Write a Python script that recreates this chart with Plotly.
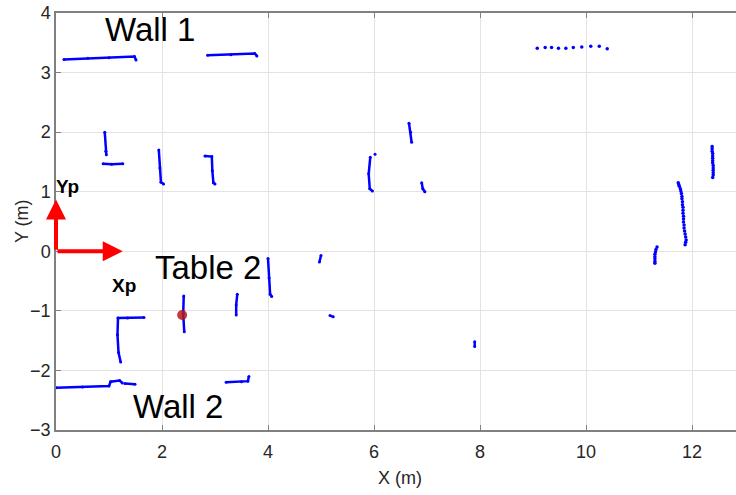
import plotly.graph_objects as go

# ---- data (metres) ----
x_ticks = [0, 2, 4, 6, 8, 10, 12]
y_ticks = [-3, -2, -1, 0, 1, 2, 3, 4]

# dense scan segments (drawn as polylines through read vertices)
wall1_left = [(0.15, 3.22), (0.6, 3.24), (1.0, 3.25), (1.48, 3.27), (1.51, 3.21)]
wall1_right = [(2.86, 3.29), (3.3, 3.30), (3.75, 3.32), (3.79, 3.28)]
seg_a_vert = [(0.92, 2.0), (0.94, 1.68), (0.95, 1.62)]
seg_a_horiz = [(0.89, 1.47), (1.05, 1.46), (1.26, 1.47)]
seg_b = [(1.94, 1.70), (1.96, 1.40), (1.98, 1.16), (2.03, 1.13)]
seg_c = [(2.81, 1.60), (2.94, 1.59), (2.95, 1.35), (2.97, 1.15), (3.0, 1.13)]
seg_d = [(5.93, 1.58), (5.90, 1.30), (5.92, 1.05), (5.97, 1.01)]
seg_d_dot = [(6.02, 1.63)]
seg_e = [(6.66, 2.15), (6.69, 2.0), (6.71, 1.83)]
seg_f = [(6.90, 1.15), (6.92, 1.05), (6.96, 1.0)]
seg_g = [(1.66, -1.11), (1.35, -1.12), (1.17, -1.12), (1.16, -1.4), (1.18, -1.7), (1.22, -1.86)]
seg_h = [(2.41, -0.75), (2.40, -1.05), (2.42, -1.35)]
seg_i = [(3.42, -0.72), (3.40, -0.9), (3.40, -1.07)]
seg_j = [(4.0, -0.12), (4.02, -0.45), (4.04, -0.72), (4.07, -0.76)]
seg_k = [(5.0, -0.07), (4.97, -0.18)]
seg_l = [(5.17, -1.08), (5.23, -1.10)]
seg_m = [(7.90, -1.52), (7.90, -1.60)]
wall2_a = [(0.0, -2.29), (0.5, -2.28), (1.0, -2.26), (1.03, -2.19), (1.2, -2.17), (1.25, -2.21)]
wall2_b = [(1.30, -2.22), (1.49, -2.23)]
wall2_c = [(3.21, -2.20), (3.5, -2.19), (3.62, -2.18), (3.64, -2.10)]

dense_segments = [wall1_left, wall1_right, seg_a_vert, seg_a_horiz, seg_b, seg_c, seg_d,
                  seg_d_dot, seg_e, seg_f, seg_g, seg_h, seg_i, seg_j, seg_k, seg_l, seg_m,
                  wall2_a, wall2_b, wall2_c]

# sparse scan points (drawn as dots)
far_wall_x = [9.08, 9.23, 9.35, 9.48, 9.62, 9.76, 9.92, 10.09, 10.25, 10.40]
far_wall_y = [3.41, 3.42, 3.42, 3.41, 3.41, 3.42, 3.43, 3.44, 3.44, 3.40]
curve_x = [11.74, 11.75, 11.76, 11.78, 11.79, 11.80, 11.81, 11.81, 11.82, 11.82, 11.83, 11.83,
           11.83, 11.84, 11.84, 11.84, 11.85, 11.85, 11.86, 11.87, 11.88, 11.89, 11.88, 11.87]
curve_y = [1.15, 1.12, 1.09, 1.05, 1.01, 0.97, 0.92, 0.88, 0.83, 0.78, 0.74, 0.69,
           0.64, 0.59, 0.54, 0.49, 0.44, 0.39, 0.34, 0.29, 0.24, 0.19, 0.15, 0.11]
right_x = [12.38, 12.38, 12.38, 12.39, 12.39, 12.39, 12.39, 12.39, 12.40, 12.40, 12.40, 12.40,
           12.40, 12.39]
right_y = [1.76, 1.72, 1.68, 1.64, 1.60, 1.56, 1.52, 1.48, 1.44, 1.40, 1.36, 1.32, 1.28, 1.24]
small_x = [11.34, 11.32, 11.31, 11.30, 11.30, 11.30, 11.30, 11.30]
small_y = [0.07, 0.03, -0.01, -0.05, -0.09, -0.13, -0.17, -0.20]

robot_x = [2.38]
robot_y = [-1.07]

labels = ["Wall 1", "Table 2", "Wall 2"]
label_x = [1.77, 2.87, 2.30]
label_y = [3.72, -0.27, -2.61]

frame_x_tip = (1.26, 0.0)
frame_y_tip = (0.0, 0.87)

BLUE = "#0000ff"
FONT = "Liberation Sans, Arial, sans-serif"

fig = go.Figure()

lx, ly = [], []
for seg in dense_segments:
    for (a, b) in seg:
        lx.append(a)
        ly.append(b)
    lx.append(None)
    ly.append(None)
fig.add_trace(go.Scatter(x=lx, y=ly, mode="lines+markers",
                         line=dict(color=BLUE, width=2.5),
                         marker=dict(color=BLUE, size=3), hoverinfo="skip",
                         showlegend=False))

sx = far_wall_x + [None] + curve_x + [None] + right_x + [None] + small_x
sy = far_wall_y + [None] + curve_y + [None] + right_y + [None] + small_y
fig.add_trace(go.Scatter(x=sx, y=sy, mode="markers",
                         marker=dict(color=BLUE, size=3.5), showlegend=False))

fig.add_trace(go.Scatter(x=robot_x, y=robot_y, mode="markers",
                         marker=dict(color="rgba(185,25,25,0.85)", size=10),
                         showlegend=False))

annotations = []
for t, x, y in zip(labels, label_x, label_y):
    annotations.append(dict(x=x, y=y, xref="x", yref="y", text=t, showarrow=False,
                            font=dict(family=FONT, size=33, color="#000000")))

# coordinate frame arrows
for tip in (frame_x_tip, frame_y_tip):
    annotations.append(dict(x=tip[0], y=tip[1], ax=0, ay=0, xref="x", yref="y",
                            axref="x", ayref="y", text="", showarrow=True,
                            arrowhead=2, arrowsize=1.0, arrowwidth=4, arrowcolor="#ff0000"))
annotations.append(dict(x=0.22, y=1.09, xref="x", yref="y", text="<b>Yp</b>", showarrow=False,
                        font=dict(family=FONT, size=19, color="#000000")))
annotations.append(dict(x=1.28, y=-0.57, xref="x", yref="y", text="<b>Xp</b>", showarrow=False,
                        font=dict(family=FONT, size=19, color="#000000")))

# axis titles
annotations.append(dict(x=0.506, y=-0.115, xref="paper", yref="paper", text="X (m)",
                        showarrow=False, xanchor="center", yanchor="middle",
                        font=dict(family=FONT, size=18, color="#262626")))
annotations.append(dict(x=-0.05, y=0.501, xref="paper", yref="paper", text="Y (m)",
                        showarrow=False, xanchor="center", yanchor="middle", textangle=-90,
                        font=dict(family=FONT, size=18, color="#262626")))

axis_common = dict(showgrid=True, gridcolor="#e3e3e3", gridwidth=1,
                   showline=True, linecolor="#808080", linewidth=1.5,
                   ticks="inside", ticklen=5, tickcolor="#808080", zeroline=False,
                   automargin=False, ticklabeloverflow="allow",
                   tickfont=dict(family=FONT, size=18, color="#262626"))

fig.update_layout(
    width=736, height=495,
    margin=dict(l=56, r=0, t=13, b=65),
    plot_bgcolor="white", paper_bgcolor="white",
    annotations=annotations,
    xaxis=dict(range=[0, 12.83], tickvals=x_ticks, mirror="ticks",
               ticklabelstandoff=5, **axis_common),
    yaxis=dict(range=[-3, 4], tickvals=y_ticks, mirror=False, **axis_common),
)

fig.write_html("out.html", config={"displayModeBar": False},
               post_script="document.body.style.margin='0px';document.body.style.overflow='hidden';")
